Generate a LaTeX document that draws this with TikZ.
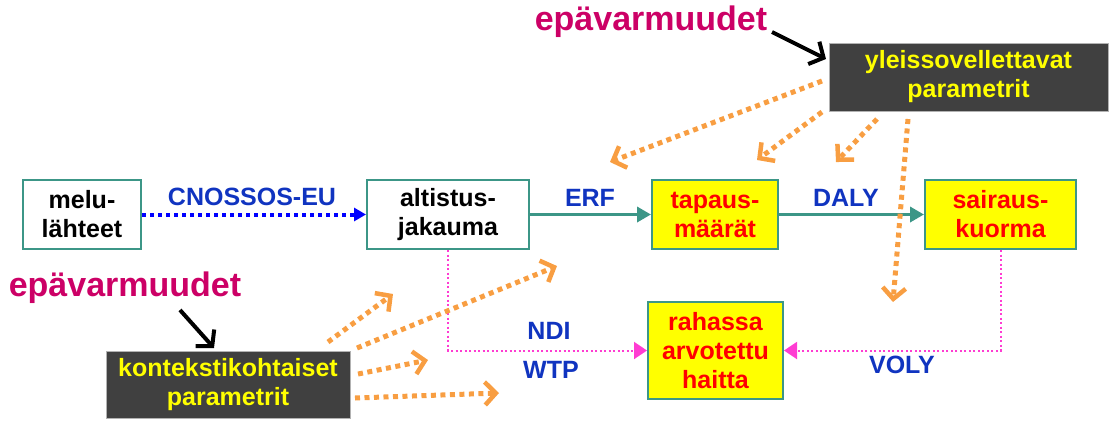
\documentclass[tikz,border=0pt]{standalone}
\usepackage{fontspec}
\setmainfont{Liberation Sans}
\usetikzlibrary{arrows.meta}
\definecolor{teal1}{RGB}{60,150,135}
\definecolor{lblue}{RGB}{16,52,192}
\definecolor{orng}{RGB}{248,158,66}
\definecolor{pnk}{RGB}{255,60,210}
\definecolor{mag}{RGB}{204,0,102}
\definecolor{dark}{RGB}{64,64,64}
\definecolor{yel}{RGB}{255,255,0}
\begin{document}
\begin{tikzpicture}[x=1pt,y=-1pt,
  every node/.style={font=\fontsize{25}{29}\selectfont\bfseries, align=center, inner sep=0pt},
  wbox/.style={draw=teal1, line width=2, fill=white},
  ybox/.style={draw=teal1, line width=2, fill=yel, text=red},
  dbox/.style={draw=gray!60, line width=1, fill=dark, text=yel},
  lbl/.style={text=lblue},
  unc/.style={text=mag, font=\fontsize{34}{38}\selectfont\bfseries},
  tealarr/.style={draw=teal1, line width=3.5, -{Triangle[length=14,width=15]}},
  bluearr/.style={draw=blue, line width=4, dash pattern=on 4 off 4, -{Triangle[length=12,width=13]}},
  pinkarr/.style={draw=pnk, line width=2, dash pattern=on 2 off 2.5, -{Triangle[length=13,width=17]}},
  orarr/.style={draw=orng, line width=5, dash pattern=on 5 off 4.5, -{Straight Barb[length=11,width=23,line width=4.5]}},
  blkarr/.style={draw=black, line width=4, -{Straight Barb[length=11,width=25,line width=4]}}
]
\useasboundingbox (0,0) rectangle (1109,421);

% boxes
\node[wbox, minimum width=118, minimum height=69] (melu) at (82,214.5) {melu-\\lähteet};
\node[wbox, minimum width=162, minimum height=69] (alt) at (448,214.5) {altistus-\\jakauma};
\node[ybox, minimum width=126, minimum height=69] (tap) at (715,214.5) {tapaus-\\määrät};
\node[ybox, minimum width=151, minimum height=69] (sai) at (1000.5,214.5) {sairaus-\\kuorma};
\node[ybox, minimum width=135, minimum height=97] (rah) at (715.5,350.5) {rahassa\\arvotettu\\haitta};
\node[dbox, minimum width=279, minimum height=68] (yle) at (968.5,77) {yleissovellettavat\\parametrit};
\node[dbox, minimum width=244, minimum height=67] (kon) at (228,384.5) {kontekstikohtaiset\\parametrit};

% uncertainty labels
\node[unc] (u1) at (651,22) {epävarmuudet};
\node[unc] (u2) at (125,288) {epävarmuudet};

% edge labels
\node[lbl] (cn) at (252,197) {CNOSSOS-EU};
\node[lbl] (erf) at (590,198) {ERF};
\node[lbl] (daly) at (846,198) {DALY};
\node[lbl] (ndi) at (549,331) {NDI};
\node[lbl] (wtp) at (551,370) {WTP};
\node[lbl] (voly) at (902,365) {VOLY};

% main connectors
\draw[bluearr] (melu) -- (alt);
\draw[tealarr] (alt) -- (tap);
\draw[tealarr] (tap) -- (sai);
\draw[pinkarr] (alt.south) |- (rah.west);
\draw[pinkarr] (sai.south) |- (rah.east);

% black arrows
\coordinate (b1s) at (772,32);
\coordinate (b1e) at (826,59);
\draw[blkarr] (b1s) -- (b1e);
\coordinate (b2s) at (180,310);
\coordinate (b2e) at (214,348);
\draw[blkarr] (b2s) -- (b2e);

% orange arrows from yleissovellettavat
\coordinate (y1s) at (822,81);
\coordinate (y1e) at (610,162);
\coordinate (y2s) at (822,112);
\coordinate (y2e) at (757,160);
\coordinate (y3s) at (877,119);
\coordinate (y3e) at (836,162);
\coordinate (y4s) at (908,119);
\coordinate (y4e) at (893,302);
\draw[orarr] (y1s) -- (y1e);
\draw[orarr] (y2s) -- (y2e);
\draw[orarr] (y3s) -- (y3e);
\draw[orarr] (y4s) -- (y4e);

% orange arrows from kontekstikohtaiset
\coordinate (k1s) at (328,342);
\coordinate (k1e) at (393,294);
\coordinate (k2s) at (357,348);
\coordinate (k2e) at (557,266);
\coordinate (k3s) at (358,374);
\coordinate (k3e) at (428,360);
\coordinate (k4s) at (355,398);
\coordinate (k4e) at (499,393);
\draw[orarr] (k1s) -- (k1e);
\draw[orarr] (k2s) -- (k2e);
\draw[orarr] (k3s) -- (k3e);
\draw[orarr] (k4s) -- (k4e);
\end{tikzpicture}
\end{document}
